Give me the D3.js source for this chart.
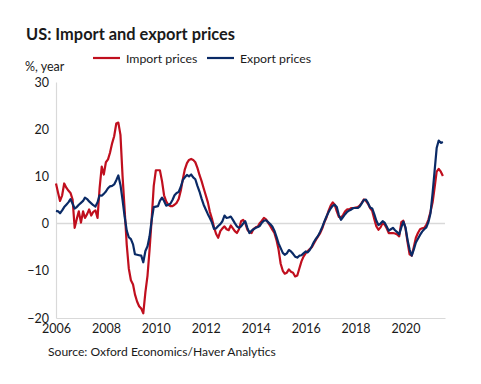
<!DOCTYPE html>
<html>
<head>
<meta charset="utf-8">
<script src="https://cdn.jsdelivr.net/npm/d3@7"></script>
<style>
  body { margin: 0; background: #fff; }
  text { font-family: Lato, "Open Sans", sans-serif; fill: #1a1a1a; }
</style>
</head>
<body>
<div id="chart"></div>
<script>
// monthly % year-on-year, Jan 2006 .. Jul 2021
const importPrices = [
  8.5, 6.5, 4.8, 6.0, 8.5, 7.6, 7.0, 6.5, 5.1, -0.9, 1.0, 2.6,          // 2006
  0.2, 2.6, 1.2, 2.0, 3.0, 1.7, 2.5, 2.8, 1.2, 7.5, 12.1, 10.4,         // 2007
  13.0, 13.6, 15.0, 17.0, 18.5, 21.2, 21.4, 18.8, 10.0, 3.0, -4.5, -9.5, // 2008
  -12.0, -12.9, -15.0, -16.5, -17.5, -18.0, -19.0, -14.5, -11.0, -5.5, 1.0, 8.0, // 2009
  11.3, 11.3, 11.3, 9.0, 6.0, 4.7, 4.0, 3.7, 3.7, 4.0, 4.4, 5.2,        // 2010
  7.0, 9.5, 11.5, 12.8, 13.5, 13.7, 13.5, 13.0, 11.8, 10.3, 9.0, 7.5,   // 2011
  6.0, 4.5, 2.5, 1.0, -0.8, -2.2, -3.0, -1.6, -1.0, -0.6, -1.2, -1.4,   // 2012
  -0.4, -1.0, -1.6, -2.0, -1.2, 0.5, 0.8, 0.1, -1.3, -1.8, -2.0, -1.1,  // 2013
  -0.8, -0.6, 0.1, 0.6, 1.2, 0.9, 0.2, -0.5, -1.3, -2.0, -3.5, -5.5,    // 2014
  -8.5, -10.0, -10.6, -10.4, -9.7, -10.2, -10.4, -11.2, -11.0, -9.5, -8.0, -7.0, // 2015
  -6.3, -5.8, -5.4, -5.0, -4.2, -3.4, -2.7, -2.0, -1.0, 0.3, 1.3, 2.7,  // 2016
  3.8, 4.5, 4.0, 2.6, 1.4, 1.3, 1.8, 2.6, 3.0, 3.0, 3.3, 3.3,           // 2017
  3.4, 3.5, 3.8, 4.4, 5.1, 4.8, 4.2, 3.3, 2.7, 1.0, -0.6, -1.3,         // 2018
  -0.8, 0.1, -0.2, -1.0, -2.0, -2.0, -2.0, -2.1, -2.3, -2.7, 0.3, 0.6,  // 2019
  -1.0, -4.0, -6.5, -6.8, -5.0, -3.0, -2.0, -1.2, -1.0, -0.9, -0.3, 0.8, // 2020
  2.5, 4.5, 7.5, 11.0, 11.6, 11.0, 10.1                                 // 2021
];

const exportPrices = [
  2.7, 2.6, 2.2, 2.8, 3.5, 4.0, 4.5, 5.2, 4.2, 3.2, 3.5, 4.0,           // 2006
  4.4, 4.8, 5.5, 5.2, 4.7, 4.3, 3.9, 3.6, 4.5, 6.0, 5.9, 6.3,           // 2007
  6.8, 7.5, 7.9, 8.0, 8.3, 9.2, 10.2, 8.2, 5.0, 1.5, -1.5, -2.9,        // 2008
  -3.3, -4.4, -6.5, -6.6, -6.7, -6.8, -8.2, -5.8, -4.8, -2.7, 0.8, 3.5, // 2009
  3.6, 3.7, 4.8, 5.5, 4.8, 3.8, 4.0, 4.2, 5.0, 6.0, 6.5, 6.7,           // 2010
  7.8, 9.3, 9.8, 10.3, 10.0, 10.4, 9.8, 9.4, 8.0, 6.8, 5.3, 4.0,        // 2011
  3.0, 2.0, 1.2, 0.2, -1.1, -1.0, -0.5, -0.1, 0.5, 1.7, 1.2, 1.3,       // 2012
  1.5, 0.8, 0.1, -0.6, -0.9, -0.6, 0.0, 0.5, -0.9, -2.0, -1.5, -1.2,    // 2013
  -0.9, -0.7, -0.5, 0.2, 0.6, 0.7, 0.3, -0.1, -0.6, -1.5, -2.8, -4.2,   // 2014
  -5.2, -6.2, -6.6, -6.3, -5.6, -5.9, -6.4, -7.0, -7.2, -6.8, -6.7, -6.3, // 2015
  -5.9, -6.1, -5.6, -4.8, -3.9, -3.2, -2.6, -1.7, -0.7, 0.4, 1.5, 2.4,  // 2016
  3.2, 3.8, 4.0, 3.5, 1.8, 0.8, 1.4, 2.0, 2.5, 2.8, 3.0, 3.3,           // 2017
  3.3, 3.3, 3.6, 4.3, 5.0, 5.1, 4.4, 3.4, 3.2, 2.0, 0.6, -0.3,          // 2018
  0.0, 0.5, 0.2, -0.6, -1.5, -1.2, -0.9, -1.4, -1.8, -2.3, -0.8, 0.4,   // 2019
  -0.8, -3.5, -5.5, -6.8, -5.5, -4.0, -3.2, -2.4, -1.7, -1.2, -0.8, 0.3, // 2020
  2.2, 6.5, 11.0, 16.0, 17.6, 17.1, 17.3                                // 2021
];

const seriesNames = ["Import prices", "Export prices"];
const seriesColors = ["#c00f1e", "#0a2a66"];
const yTicks = [-20, -10, 0, 10, 20, 30];
const xTickYears = [2006, 2008, 2010, 2012, 2014, 2016, 2018, 2020];

const width = 481, height = 384;
const margin = { top: 82, right: 36, bottom: 66, left: 56 };

const svg = d3.select("#chart").append("svg")
  .attr("width", width)
  .attr("height", height);

const start = new Date(2006, 0, 1);
const monthDate = (i) => d3.timeMonth.offset(start, i);

const x = d3.scaleTime()
  .domain([start, new Date(2021, 7, 1)])
  .range([margin.left, width - margin.right]);

const y = d3.scaleLinear()
  .domain([-20, 30])
  .range([height - margin.bottom, margin.top]);

// title
svg.append("text")
  .attr("x", 26).attr("y", 40)
  .style("font-size", "16.4px").style("font-weight", "bold")
  .text("US: Import and export prices");

// y unit label
svg.append("text")
  .attr("x", 25).attr("y", 71)
  .style("font-size", "12.5px")
  .text("%, year");

// legend
const legend = svg.append("g");
const legendX = [93, 207];
seriesNames.forEach((name, i) => {
  legend.append("line")
    .attr("x1", legendX[i]).attr("x2", legendX[i] + 27)
    .attr("y1", 58).attr("y2", 58)
    .attr("stroke", seriesColors[i]).attr("stroke-width", 2.2);
  legend.append("text")
    .attr("x", legendX[i] + 33).attr("y", 62.5)
    .style("font-size", "12.3px")
    .text(name);
});

// y axis
const yAxis = svg.append("g")
  .attr("transform", `translate(${margin.left},0)`)
  .call(d3.axisLeft(y).tickValues(yTicks).tickSize(0).tickPadding(7).tickFormat(d3.format("d")));
yAxis.select(".domain").attr("stroke", "#d9d9d9").attr("stroke-width", 1.2);
yAxis.selectAll("text").style("font-size", "12.5px").style("fill", "#1a1a1a");

// x axis
const xAxis = svg.append("g")
  .attr("transform", `translate(0,${y(-20)})`)
  .call(d3.axisBottom(x)
    .tickValues(xTickYears.map((yr) => new Date(yr, 0, 1)))
    .tickSize(0).tickPadding(6)
    .tickFormat(d3.timeFormat("%Y")));
xAxis.select(".domain").attr("stroke", "#d9d9d9").attr("stroke-width", 1.2);
xAxis.selectAll("text").style("font-size", "12.5px").style("fill", "#1a1a1a");

// zero line
svg.append("line")
  .attr("x1", x.range()[0]).attr("x2", x.range()[1])
  .attr("y1", y(0)).attr("y2", y(0))
  .attr("stroke", "#d9d9d9").attr("stroke-width", 1.5);

// lines
const line = d3.line()
  .x((d, i) => x(monthDate(i)))
  .y((d) => y(d));

[importPrices, exportPrices].forEach((values, i) => {
  svg.append("path")
    .datum(values)
    .attr("fill", "none")
    .attr("stroke", seriesColors[i])
    .attr("stroke-width", 2.2)
    .attr("stroke-linejoin", "round")
    .attr("d", line);
});

// source
svg.append("text")
  .attr("x", 48).attr("y", 356)
  .style("font-size", "12.1px")
  .text("Source: Oxford Economics/Haver Analytics");
</script>
</body>
</html>
